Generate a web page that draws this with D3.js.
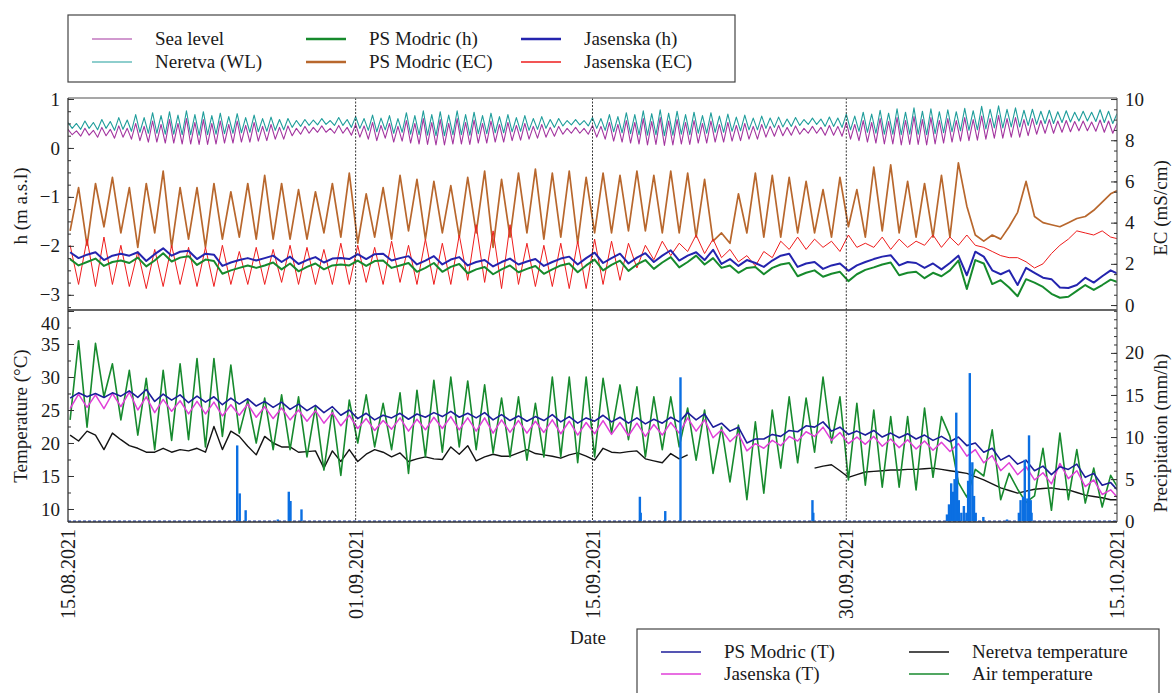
<!DOCTYPE html>
<html>
<head>
<meta charset="utf-8">
<script src="https://cdn.jsdelivr.net/npm/d3@7"></script>
<style>
  body { margin: 0; background: #fff; }
  svg text { font-family: "Liberation Serif", Tinos, "Times New Roman", Times, "DejaVu Serif", serif; fill: #1a1a1a; }
</style>
</head>
<body>
<svg id="chart" width="1174" height="693"></svg>
<script>
// --------------- Data ---------------
// hourly records thinned by hand: 6-hourly for water levels, 12-hourly for the rest
const START = new Date(2021, 7, 15);
const END = new Date(2021, 9, 16);
const HOUR = 3600e3;
const DAY = 864e5;

const tickDates = [new Date(2021, 7, 15), new Date(2021, 8, 1), new Date(2021, 8, 15), new Date(2021, 8, 30), new Date(2021, 9, 16)];
const tickLabels = ["15.08.2021", "01.09.2021", "15.09.2021", "30.09.2021", "15.10.2021"];
const gridDates = [new Date(2021, 8, 1), new Date(2021, 8, 15), new Date(2021, 8, 30)];

// sea level, m a.s.l., every 6 h from 15.08 00:00
const seaLevel = [
  .38,.27,.35,.24, .40,.26,.36,.22, .42,.25,.38,.20, .45,.22,.40,.18,
  .50,.15,.44,.12, .55,.12,.48,.10, .58,.10,.50,.08, .60,.08,.52,.07,
  .58,.07,.50,.08, .55,.10,.48,.10, .55,.12,.46,.12, .52,.14,.44,.15,
  .48,.18,.42,.18, .45,.25,.40,.28, .44,.30,.42,.32, .45,.32,.40,.30,
  .46,.30,.42,.26, .48,.22,.45,.18, .52,.15,.46,.20, .50,.12,.44,.14,
  .56,.10,.50,.08, .60,.07,.52,.06, .58,.06,.50,.08, .60,.08,.52,.07,
  .57,.10,.50,.10, .55,.12,.48,.12, .52,.15,.46,.16, .50,.18,.44,.20,
  .48,.22,.42,.24, .44,.28,.40,.30, .42,.30,.40,.28, .46,.22,.44,.18,
  .52,.14,.48,.12, .56,.10,.52,.08, .60,.06,.54,.07, .62,.05,.55,.06,
  .58,.08,.52,.07, .56,.10,.50,.10, .55,.12,.48,.12, .52,.14,.46,.15,
  .50,.18,.44,.18, .48,.22,.44,.24, .46,.25,.42,.26, .45,.28,.40,.30,
  .44,.30,.42,.26, .46,.26,.44,.24, .52,.18,.48,.15, .56,.12,.52,.10,
  .60,.08,.54,.08, .62,.06,.56,.07, .64,.07,.58,.06, .62,.08,.56,.10,
  .60,.12,.56,.14, .62,.15,.58,.16, .65,.18,.60,.20, .66,.20,.60,.22,
  .62,.22,.58,.25, .60,.28,.56,.30, .58,.30,.55,.32, .56,.33,.54,.35,
  .55,.35,.53,.34, .57,.32,.55,.30, .50
];

// Neretva water level, m a.s.l., every 6 h
const neretvaWL = [
  .52,.40,.50,.38, .55,.40,.52,.37, .58,.40,.54,.36, .62,.38,.57,.34,
  .68,.32,.62,.30, .72,.30,.66,.28, .74,.28,.67,.27, .76,.27,.68,.26,
  .74,.27,.66,.28, .71,.29,.64,.30, .70,.31,.62,.32, .67,.33,.60,.34,
  .63,.36,.58,.37, .60,.42,.56,.44, .58,.46,.57,.47, .60,.48,.56,.46,
  .62,.46,.58,.42, .64,.40,.60,.36, .67,.33,.61,.37, .66,.30,.60,.32,
  .72,.28,.66,.27, .76,.26,.68,.25, .74,.25,.67,.27, .76,.27,.68,.26,
  .73,.29,.66,.29, .71,.31,.64,.31, .68,.33,.62,.34, .66,.36,.60,.38,
  .64,.40,.58,.42, .60,.45,.56,.47, .58,.47,.56,.45, .62,.40,.60,.36,
  .68,.33,.64,.31, .72,.29,.68,.27, .76,.26,.70,.27, .78,.25,.71,.26,
  .75,.28,.68,.27, .73,.30,.66,.30, .72,.32,.65,.32, .69,.34,.63,.35,
  .67,.37,.61,.37, .65,.40,.61,.42, .63,.43,.59,.44, .62,.46,.58,.48,
  .61,.48,.59,.44, .63,.44,.61,.42, .69,.37,.65,.34, .73,.32,.69,.30,
  .77,.28,.71,.28, .80,.27,.73,.28, .82,.28,.75,.27, .80,.29,.74,.31,
  .78,.33,.74,.35, .81,.36,.76,.37, .85,.39,.79,.41, .86,.41,.79,.43,
  .82,.43,.77,.46, .79,.48,.75,.50, .77,.50,.74,.52, .76,.53,.73,.55,
  .75,.55,.73,.54, .78,.52,.75,.50, .70
];

// PS Modric groundwater level, m a.s.l., every 12 h from 15.08 03:00
const modricH = [
  -2.27,-2.40,-2.33,-2.26,-2.41,-2.33,-2.30,-2.35,-2.24,-2.42,
  -2.30,-2.15,-2.32,-2.24,-2.21,-2.39,-2.28,-2.31,-2.57,-2.50,
  -2.45,-2.40,-2.45,-2.40,-2.34,-2.48,-2.36,-2.52,-2.43,-2.36,
  -2.48,-2.40,-2.38,-2.40,-2.30,-2.41,-2.31,-2.30,-2.45,-2.40,
  -2.35,-2.53,-2.45,-2.35,-2.53,-2.43,-2.37,-2.56,-2.48,-2.43,
  -2.58,-2.48,-2.40,-2.54,-2.47,-2.41,-2.57,-2.48,-2.40,-2.36,
  -2.54,-2.40,-2.28,-2.50,-2.39,-2.30,-2.51,-2.38,-2.29,-2.47,
  -2.34,-2.23,-2.44,-2.33,-2.20,-2.38,-2.25,-2.45,-2.40,-2.55,
  -2.45,-2.43,-2.58,-2.45,-2.38,-2.35,-2.62,-2.55,-2.50,-2.63,
  -2.57,-2.53,-2.72,-2.58,-2.49,-2.44,-2.38,-2.34,-2.60,-2.55,
  -2.53,-2.66,-2.55,-2.62,-2.50,-2.30,-2.88,-2.29,-2.36,-2.78,
  -2.70,-2.85,-3.03,-2.68,-2.75,-2.84,-2.98,-3.06,-3.04,-2.92,
  -2.80,-2.90,-2.80,-2.69,-2.75
];

// Jasenska groundwater level, m a.s.l., every 12 h
const jasenskaH = [
  -2.13,-2.25,-2.18,-2.13,-2.29,-2.20,-2.16,-2.20,-2.13,-2.31,
  -2.17,-2.05,-2.20,-2.12,-2.10,-2.27,-2.16,-2.18,-2.41,-2.34,
  -2.29,-2.25,-2.30,-2.25,-2.20,-2.33,-2.22,-2.37,-2.29,-2.23,
  -2.34,-2.26,-2.25,-2.27,-2.17,-2.27,-2.17,-2.16,-2.30,-2.25,
  -2.21,-2.38,-2.30,-2.21,-2.38,-2.28,-2.23,-2.40,-2.33,-2.29,
  -2.42,-2.33,-2.26,-2.38,-2.32,-2.27,-2.41,-2.33,-2.26,-2.22,
  -2.38,-2.25,-2.14,-2.35,-2.25,-2.16,-2.36,-2.24,-2.15,-2.33,
  -2.20,-2.09,-2.30,-2.20,-2.13,-2.29,-2.08,-2.37,-2.27,-2.41,
  -2.29,-2.35,-2.43,-2.30,-2.20,-2.16,-2.43,-2.36,-2.33,-2.47,
  -2.40,-2.36,-2.51,-2.40,-2.33,-2.27,-2.22,-2.19,-2.40,-2.33,
  -2.35,-2.45,-2.36,-2.48,-2.35,-2.20,-2.60,-2.12,-2.22,-2.50,
  -2.58,-2.50,-2.80,-2.45,-2.55,-2.65,-2.68,-2.85,-2.86,-2.80,
  -2.65,-2.75,-2.62,-2.50,-2.58
];

// PS Modric EC, mS/cm, every 12 h
const modricEC = [
  3.6,5.7, 2.9,5.9, 3.8,6.2, 3.5,5.7, 2.8,5.9,
  3.5,6.5, 2.8,5.7, 3.2,5.7, 2.8,5.9, 3.2,5.5,
  3.3,5.9, 3.2,6.3, 3.2,5.9, 3.2,5.6, 3.2,5.5,
  3.5,5.9, 3.3,6.4, 3.0,5.4, 3.3,5.7, 3.2,6.3,
  3.6,6.1, 3.2,6.0, 3.5,5.8, 3.3,6.2, 3.5,6.5,
  2.8,6.1, 3.3,6.4, 3.5,6.6, 3.2,6.4, 3.3,6.5,
  3.0,6.2, 3.5,6.4, 3.5,6.3, 3.6,6.5, 3.6,6.3,
  3.5,6.5, 3.5,6.4, 3.3,6.1, 3.1,3.5, 3.0,5.4,
  3.5,6.4, 3.3,6.3, 3.3,6.2, 3.5,6.0, 3.5,5.6,
  3.3,6.2, 3.8,5.6, 3.3,6.7, 3.6,6.8, 3.5,6.0,
  3.3,5.9, 3.3,6.3, 3.3,6.9, 4.8,3.4, 3.1,3.4,
  3.2,3.8, 4.5,6.0, 4.3,4.0, 3.9,3.8, 4.0,4.2,
  4.3,4.6, 5.0,5.4, 5.6
];

// Jasenska EC, mS/cm, every 12 h
const jasenskaEC = [
  2.9,1.0, 3.2,0.9, 3.3,1.0, 2.9,0.9, 2.6,0.8,
  2.7,0.9, 2.9,1.0, 2.8,0.9, 2.8,0.9, 2.9,1.0,
  2.6,1.0, 2.8,1.0, 2.7,1.1, 2.9,1.0, 2.8,1.0,
  2.7,1.0, 3.0,1.0, 2.9,1.1, 2.8,1.0, 3.1,1.1,
  2.9,1.0, 3.2,1.0, 3.0,1.0, 3.4,1.2, 3.9,1.1,
  3.6,0.8, 3.9,1.0, 3.0,0.9, 2.9,0.9, 3.0,0.8,
  3.1,0.8, 3.2,1.0, 3.1,1.2, 3.0,1.8, 2.9,2.2,
  3.1,2.4, 3.0,2.6, 3.4,2.5, 3.2,2.3, 2.7,2.1,
  2.4,1.9, 2.6,2.3, 3.1,2.7, 3.3,2.7, 3.2,2.8,
  3.1,2.6, 3.4,2.8, 3.0,2.8, 3.3,2.7, 3.2,2.8,
  3.1,2.9, 3.4,2.8, 3.3,2.9, 3.4,2.9, 2.8,2.6,
  2.4,2.3, 2.3,2.1, 1.8,2.0, 2.5,2.9, 3.2,3.6,
  3.5,3.4, 3.6,3.3, 3.2
];

// PS Modric water temperature, °C, every 12 h
const modricT = [
  26.8,27.6, 27.0,27.5, 26.9,27.6, 27.1,27.9, 26.9,28.1,
  26.3,27.4, 26.5,27.3, 26.1,27.1, 26.2,27.0, 25.8,26.8,
  25.9,26.7, 25.6,26.3, 25.4,26.2, 25.1,25.9, 24.9,25.7,
  24.6,25.5, 24.2,25.0, 23.7,24.5, 23.5,24.2, 23.8,24.5,
  23.6,24.4, 23.9,24.6, 24.0,24.8, 23.9,24.5, 23.8,24.6,
  23.5,24.3, 23.4,24.1, 23.3,24.0, 23.4,24.3, 23.2,24.0,
  23.0,23.8, 23.3,24.2, 23.2,23.9, 23.0,23.8, 22.9,23.6,
  23.0,23.9, 23.2,24.6, 23.5,24.4, 22.4,23.0, 21.8,22.4,
  20.0,20.6, 20.6,21.3, 21.0,21.9, 21.7,22.6, 22.4,23.2,
  21.8,22.4, 21.3,21.8, 21.2,21.9, 20.9,21.5, 20.8,21.4,
  20.6,21.2, 20.4,21.0, 20.2,20.9, 19.6,20.0, 18.6,19.2,
  17.4,18.1, 16.8,17.4, 15.8,16.5, 15.2,16.4, 16.0,16.8,
  14.8,15.4, 13.6,14.0, 12.6
];

// Jasenska water temperature, °C, every 12 h
const jasenskaT = [
  25.2,27.4, 25.4,27.3, 25.2,27.5, 25.5,27.7, 25.0,27.0,
  24.6,26.6, 24.8,26.4, 24.4,26.3, 24.4,26.2, 24.1,25.8,
  24.2,25.9, 23.9,25.5, 23.7,25.3, 23.5,25.0, 23.3,24.9,
  23.0,24.6, 22.6,24.2, 22.2,23.7, 21.9,23.4, 22.1,23.8,
  21.8,23.6, 22.0,23.9, 22.2,24.0, 22.0,23.8, 21.8,23.8,
  21.5,23.5, 21.6,23.4, 21.5,23.3, 21.6,23.5, 21.4,23.3,
  21.2,23.1, 21.4,23.4, 21.3,23.1, 21.1,23.0, 21.0,22.8,
  21.2,23.1, 21.5,23.8, 21.8,23.5, 20.8,22.0, 20.2,21.4,
  18.8,19.9, 19.2,20.4, 19.6,21.0, 20.3,21.7, 21.0,22.4,
  20.4,21.6, 19.9,20.9, 19.8,21.0, 19.5,20.6, 19.3,20.5,
  19.1,20.3, 18.9,20.1, 18.7,19.9, 18.0,19.0, 17.0,18.1,
  15.8,17.0, 15.2,16.4, 14.4,15.5, 13.8,16.9, 14.6,15.8,
  13.4,14.4, 12.2,12.9, 11.5
];

// Neretva temperature, °C, every 12 h (logger gap 22.09-28.09)
const neretvaT = [
  21.2,20.3, 21.8,21.2, 19.0,21.5, 20.5,19.6, 19.2,18.6,
  18.6,19.2, 18.6,19.0, 18.8,19.2, 18.6,22.5, 19.0,21.8,
  21.0,19.5, 18.2,21.0, 20.0,19.4, 19.4,18.6, 18.7,18.8,
  16.2,18.8, 17.2,19.0, 17.2,18.3, 19.0,18.6, 17.9,18.5,
  17.2,17.6, 17.9,17.6, 17.5,19.4, 18.3,19.6, 17.3,17.9,
  18.3,18.0, 18.0,18.5, 19.0,18.4, 18.2,18.0, 17.7,18.2,
  18.5,18.0, 17.4,19.2, 18.6,18.5, 18.7,18.8, 17.6,17.3,
  17.0,18.4, 17.6,18.2, null,null, null,null, null,null,
  null,null, null,null, null,null, null,null, 16.2,16.5,
  16.7,15.8, 14.8,15.2, 15.6,15.7, 15.8,15.9, 15.9,16.0,
  16.0,16.1, 16.2,16.0, 15.8,15.6, 15.4,14.9, 14.4,13.8,
  13.2,12.8, 12.4,12.7, 13.0,13.1, 13.2,13.0, 12.9,12.5,
  12.1,11.9, 11.7,11.4, 11.4
];

// air temperature, °C, every 12 h (night minimum, day maximum)
const airT = [
  23.5,35.5, 22.4,35.1, 27.0,32.0, 23.5,31.0, 21.2,29.8,
  19.0,31.0, 20.4,32.0, 20.5,32.8, 19.4,32.8, 21.0,31.8,
  21.5,26.5, 20.0,26.8, 19.0,27.3, 19.0,27.0, 17.9,25.5,
  15.9,25.0, 15.1,26.5, 20.0,27.3, 19.4,26.0, 19.0,27.6,
  15.4,28.0, 17.9,29.5, 18.6,30.0, 19.4,29.4, 19.0,28.8,
  18.5,26.8, 17.9,27.0, 17.4,26.0, 17.9,30.0, 17.9,30.0,
  17.0,30.0, 17.9,29.8, 21.5,28.8, 20.5,28.5, 17.9,27.0,
  19.0,27.0, 19.4,25.3, 17.4,25.0, 15.4,22.4, 14.1,22.7,
  11.4,23.2, 12.4,25.0, 16.2,27.0, 17.0,26.8, 18.6,30.0,
  20.0,27.0, 14.4,26.0, 13.6,25.0, 13.3,24.0, 13.3,24.0,
  12.9,25.3, 14.8,24.0, 21.0,14.0, 11.8,16.0, 15.0,22.0,
  11.4,15.4, 13.0,11.0, 12.0,19.2, 9.8,21.5, 11.4,19.0,
  10.9,16.2, 10.3,15.1, 12.9
];

// precipitation, mm/h: day offset from 15.08 and intensity
const precipDay = [10.0, 10.15, 10.5, 12.4, 13.05, 13.15, 13.8, 33.8, 33.85, 35.3, 36.2, 44.0, 44.05,
  51.95, 52.07, 52.2, 52.3, 52.4, 52.5, 52.55, 52.65, 52.8, 52.95, 53.1, 53.2, 53.3, 53.45, 53.55, 53.65,
  54.1, 55.5, 56.2, 56.3, 56.45, 56.55, 56.7, 56.8, 56.9, 56.95];
const precipMm = [9.0, 3.3, 1.3, 0.2, 3.5, 2.4, 1.4, 2.9, 1.0, 1.2, 17.1, 2.5, 1.0,
  0.8, 2.0, 4.5, 3.5, 5.0, 12.9, 6.0, 2.5, 1.0, 1.8, 1.0, 4.8, 17.6, 7.0, 3.0, 1.0,
  0.5, 0.2, 1.0, 2.5, 2.9, 7.3, 2.7, 10.2, 2.5, 1.0];

const topLegend = ["Sea level", "Neretva (WL)", "PS Modric (h)", "PS Modric (EC)", "Jasenska (h)", "Jasenska (EC)"];
const bottomLegend = ["PS Modric (T)", "Jasenska (T)", "Neretva temperature", "Air temperature"];

// --------------- Layout ---------------
const X0 = 68, X1 = 1117;
const TOP = 98, MID = 310, BOT = 522;
const SERIF = '"Liberation Serif", Tinos, "Times New Roman", Times, "DejaVu Serif", serif';

const COLORS = {
  sea: "#a3359f",
  neretva: "#1f9d9b",
  modricH: "#168a2c",
  modricEC: "#b8672d",
  jasH: "#2424ae",
  jasEC: "#ee1c1c",
  modricT: "#1d1d9a",
  jasT: "#e03fd8",
  neretvaT: "#141414",
  air: "#178a2e",
  rain: "#0b6fe2"
};

const svg = d3.select("#chart").attr("font-family", SERIF);

const x = d3.scaleTime().domain([START, END]).range([X0, X1]);
const hY = d3.scaleLinear().domain([-3.31, 1.02]).range([MID, TOP]);
const ecY = d3.scaleLinear().domain([-0.24, 10.05]).range([MID, TOP]);
const tY = d3.scaleLinear().domain([8.03, 40.15]).range([BOT, MID]);
const pY = d3.scaleLinear().domain([-0.1, 25.1]).range([BOT, MID]);

const t6 = j => new Date(START.getTime() + j * 6 * HOUR);
const t12 = i => new Date(START.getTime() + (3 + 12 * i) * HOUR);

const defs = svg.append("defs");
defs.append("clipPath").attr("id", "clipTop")
  .append("rect").attr("x", X0).attr("y", TOP).attr("width", X1 - X0).attr("height", MID - TOP);
defs.append("clipPath").attr("id", "clipBot")
  .append("rect").attr("x", X0).attr("y", MID).attr("width", X1 - X0).attr("height", BOT - MID);

function drawSeries(g, values, timeFn, yScale, color, width) {
  const line = d3.line()
    .defined(d => d[1] != null)
    .x(d => x(d[0]))
    .y(d => yScale(d[1]));
  g.append("path")
    .datum(values.map((v, i) => [timeFn(i), v]))
    .attr("d", line)
    .attr("fill", "none")
    .attr("stroke", color)
    .attr("stroke-width", width)
    .attr("stroke-linejoin", "round");
}

// --------------- Top panel ---------------
const gTop = svg.append("g").attr("clip-path", "url(#clipTop)");
drawSeries(gTop, seaLevel, t6, hY, COLORS.sea, 1.1);
drawSeries(gTop, neretvaWL, t6, hY, COLORS.neretva, 1.1);
drawSeries(gTop, modricEC, t12, ecY, COLORS.modricEC, 1.7);
drawSeries(gTop, jasenskaEC, t12, ecY, COLORS.jasEC, 1.0);
drawSeries(gTop, modricH, t12, hY, COLORS.modricH, 2.0);
drawSeries(gTop, jasenskaH, t12, hY, COLORS.jasH, 2.0);

// --------------- Bottom panel ---------------
const gBot = svg.append("g").attr("clip-path", "url(#clipBot)");
drawSeries(gBot, neretvaT, t12, tY, COLORS.neretvaT, 1.4);
drawSeries(gBot, airT, t12, tY, COLORS.air, 1.6);
drawSeries(gBot, jasenskaT, t12, tY, COLORS.jasT, 1.5);
drawSeries(gBot, modricT, t12, tY, COLORS.modricT, 1.6);

gBot.append("line")
  .attr("x1", X0).attr("x2", X1)
  .attr("y1", pY(0)).attr("y2", pY(0))
  .attr("stroke", "#1d3fae").attr("stroke-width", 1.4)
  .attr("stroke-dasharray", "3,2");

gBot.append("g")
  .selectAll("rect")
  .data(precipDay.map((d, i) => [new Date(START.getTime() + d * DAY), precipMm[i]]))
  .enter()
  .append("rect")
  .attr("x", d => x(d[0]) - 1.2)
  .attr("width", 2.4)
  .attr("y", d => pY(d[1]))
  .attr("height", d => pY(0) - pY(d[1]))
  .attr("fill", COLORS.rain);

// dotted date grid
svg.append("g")
  .selectAll("line")
  .data(gridDates)
  .enter()
  .append("line")
  .attr("x1", d => x(d)).attr("x2", d => x(d))
  .attr("y1", TOP).attr("y2", BOT)
  .attr("stroke", "#222").attr("stroke-width", 0.9)
  .attr("stroke-dasharray", "2,1.5");

// --------------- Frames ---------------
const frame = svg.append("g").attr("stroke-width", 1.3).attr("fill", "none");
frame.append("line").attr("x1", X0).attr("x2", X1).attr("y1", TOP).attr("y2", TOP).attr("stroke", "#8a8a8a");
frame.append("line").attr("x1", X0).attr("x2", X1).attr("y1", MID).attr("y2", MID).attr("stroke", "#333");
frame.append("line").attr("x1", X0).attr("x2", X1).attr("y1", BOT).attr("y2", BOT).attr("stroke", "#333");
frame.append("line").attr("x1", X0).attr("x2", X0).attr("y1", TOP).attr("y2", BOT).attr("stroke", "#333");
frame.append("line").attr("x1", X1).attr("x2", X1).attr("y1", TOP).attr("y2", BOT).attr("stroke", "#666");

// --------------- Axes ---------------
function styleAxis(g) {
  g.attr("font-family", SERIF);
  g.select(".domain").remove();
  g.selectAll("line").attr("stroke", "#333");
  g.selectAll("text").attr("font-size", 19).attr("fill", "#1a1a1a");
}

function yAxis(scale, side, majors, minors) {
  const at = side === "left" ? X0 : X1;
  const make = side === "left" ? d3.axisLeft : d3.axisRight;
  svg.append("g")
    .attr("transform", `translate(${at},0)`)
    .call(make(scale).tickValues(minors).tickSize(-3).tickFormat(""))
    .call(styleAxis);
  return svg.append("g")
    .attr("transform", `translate(${at},0)`)
    .call(make(scale).tickValues(majors).tickSize(-6).tickPadding(8).tickFormat(d3.format("d")))
    .call(styleAxis);
}

yAxis(hY, "left", [-3, -2, -1, 0, 1], d3.range(-3.25, 1.01, 0.25));
yAxis(ecY, "right", [0, 2, 4, 6, 8, 10], d3.range(0, 10.01, 0.5));
const tAxis = yAxis(tY, "left", [10, 15, 20, 25, 30, 35, 40], d3.range(10, 40.01, 2.5));
tAxis.selectAll(".tick text").filter(d => d === 40).attr("dy", "0.95em");
yAxis(pY, "right", [0, 5, 10, 15, 20], d3.range(0, 25.01, 1));

const xAxis = svg.append("g")
  .attr("transform", `translate(0,${BOT})`)
  .call(d3.axisBottom(x).tickValues(tickDates).tickSize(0).tickFormat((d, i) => tickLabels[i]))
  .call(styleAxis);
xAxis.selectAll("text")
  .attr("font-size", 20)
  .attr("transform", "rotate(-90)")
  .attr("x", -7)
  .attr("y", 0)
  .attr("dy", "0.33em")
  .style("text-anchor", "end");

// axis titles
function title(txt, tx, ty) {
  svg.append("text")
    .attr("transform", `translate(${tx},${ty}) rotate(-90)`)
    .attr("text-anchor", "middle")
    .attr("font-size", 19)
    .text(txt);
}
title("h (m a.s.l)", 27, 206);
title("Temperature (°C)", 27, 416);
title("EC (mS/cm)", 1167, 208);
title("Precipitation (mm/h)", 1167, 433);

svg.append("text")
  .attr("x", 588).attr("y", 644)
  .attr("text-anchor", "middle")
  .attr("font-size", 19)
  .text("Date");

// --------------- Legends ---------------
function legendBox(x0, y0, w, h) {
  svg.append("rect")
    .attr("x", x0).attr("y", y0).attr("width", w).attr("height", h)
    .attr("fill", "#fff").attr("stroke", "#444").attr("stroke-width", 1.2);
}

function legendItem(lx, ly, label, color, width) {
  svg.append("line")
    .attr("x1", lx).attr("x2", lx + 40)
    .attr("y1", ly).attr("y2", ly)
    .attr("stroke", color).attr("stroke-width", width);
  svg.append("text")
    .attr("x", lx + 63).attr("y", ly)
    .attr("dy", "0.33em")
    .attr("font-size", 19)
    .text(label);
}

legendBox(68, 15, 667, 67);
const topStyles = [
  [COLORS.sea, 1.2], [COLORS.neretva, 1.2],
  [COLORS.modricH, 2.6], [COLORS.modricEC, 2.6],
  [COLORS.jasH, 2.6], [COLORS.jasEC, 1.3]
];
topLegend.forEach((lab, i) => {
  const col = Math.floor(i / 2), row = i % 2;
  legendItem([92, 306, 521][col], 39 + row * 23, lab, topStyles[i][0], topStyles[i][1]);
});

legendBox(637, 629, 522, 80);
const botStyles = [[COLORS.modricT, 1.5], [COLORS.jasT, 1.5], [COLORS.neretvaT, 1.5], [COLORS.air, 1.5]];
bottomLegend.forEach((lab, i) => {
  const col = Math.floor(i / 2), row = i % 2;
  legendItem([661, 909][col], 652 + row * 22, lab, botStyles[i][0], botStyles[i][1]);
});
</script>
</body>
</html>
